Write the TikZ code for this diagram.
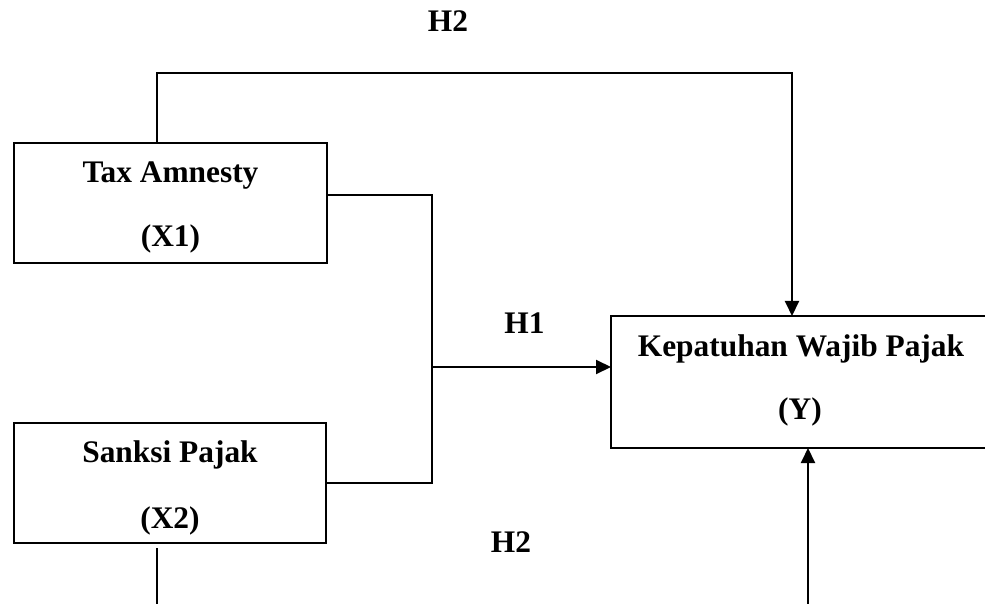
\documentclass[tikz,border=0pt]{standalone}
\usepackage{fontspec}
\setmainfont{Liberation Serif}
\usetikzlibrary{arrows.meta}
\begin{document}
\begin{tikzpicture}[x=0.5pt,y=-0.5pt,
  box/.style={draw, line width=1pt, inner sep=0pt, outer sep=0pt},
  lbl/.style={anchor=base, inner sep=0pt, font=\fontsize{15.7}{18}\selectfont\bfseries},
  conn/.style={line width=1pt},
  arr/.style={line width=1pt, -{Triangle[length=7.5pt,width=7pt]}}]
\useasboundingbox (0,0) rectangle (985,604);
% boxes
\node[box, minimum width=156.5pt, minimum height=60pt] (x1) at (170.5,203) {};
\node[box, minimum width=156pt, minimum height=60pt] (x2) at (170,483) {};
\node[box, minimum width=189pt, minimum height=66pt] (y) at (800,382) {};
% texts
\node[lbl] (x1a) at (170.5,183) {Tax Amnesty};
\node[lbl] (x1b) at (170.5,247) {(X1)};
\node[lbl] (x2a) at (170,462) {Sanksi Pajak};
\node[lbl] (x2b) at (170,528) {(X2)};
\node[lbl] (ya) at (801,356) {Kepatuhan Wajib Pajak};
\node[lbl] (yb) at (800,419) {(Y)};
\node[lbl] (h2t) at (448,32) {H2};
\node[lbl] (h1) at (524.5,333) {H1};
\node[lbl] (h2b) at (511,552) {H2};
% coordinates
\coordinate (a1) at (157,73);
\coordinate (a2) at (792,73);
\coordinate (j1) at (432,195);
\coordinate (j2) at (432,483);
\coordinate (jm) at (432,367);
\coordinate (b1) at (157,604);
\coordinate (b2) at (808,604);
% connectors
\draw[arr] (x1.north -| a1) -- (a1) -- (a2) -- (y.north -| a2);
\draw[conn] (x1.east |- j1) -- (j1) -- (j2) -- (x2.east |- j2);
\draw[arr] (jm) -- (y.west |- jm);
\draw[conn] ([yshift=-2.5pt]x2.south -| b1) -- (b1);
\draw[arr] (b2) -- (y.south -| b2);
\end{tikzpicture}
\end{document}
